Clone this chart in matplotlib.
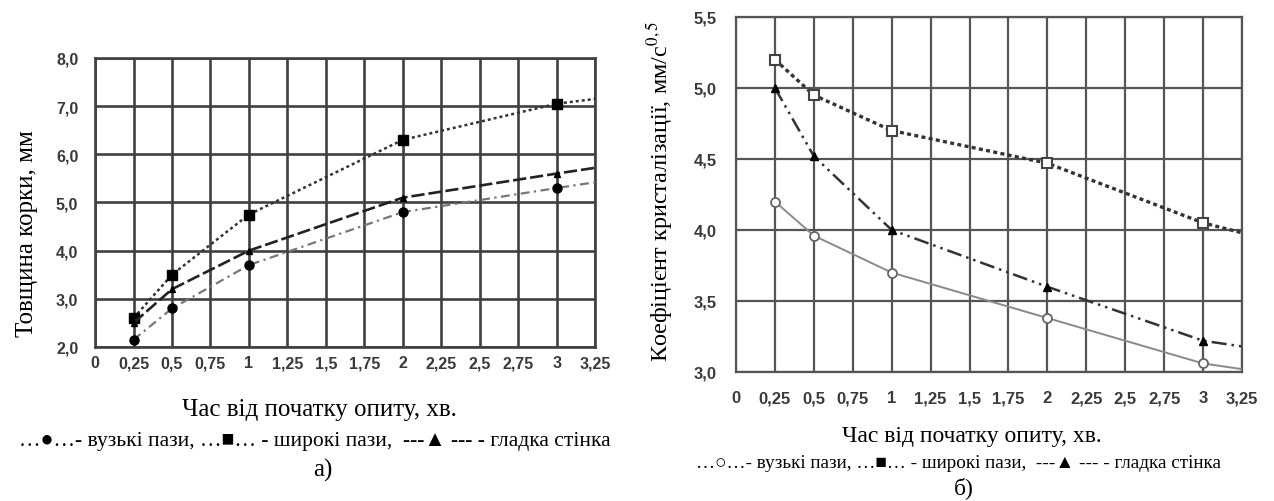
import numpy as np
import matplotlib
matplotlib.use("Agg")
import matplotlib.pyplot as plt

plt.rcParams['font.family'] = ['Liberation Serif', 'DejaVu Serif']
plt.rcParams['mathtext.fontset'] = 'stix'

# data (last value = where the line ends, no marker)
t = [0.25, 0.5, 1, 2, 3, 3.25]
x_ticks = [0, 0.25, 0.5, 0.75, 1, 1.25, 1.5, 1.75, 2, 2.25, 2.5, 2.75, 3, 3.25]
x_labels = ['0', '0,25', '0,5', '0,75', '1', '1,25', '1,5', '1,75', '2',
            '2,25', '2,5', '2,75', '3', '3,25']

# a) crust thickness, mm
narrow_a = [2.15, 2.8, 3.7, 4.8, 5.3, 5.42]
wide_a = [2.6, 3.5, 4.75, 6.3, 7.05, 7.15]
smooth_a = [2.5, 3.2, 4.0, 5.1, 5.6, 5.72]
y_ticks_a = [2, 3, 4, 5, 6, 7, 8]
y_labels_a = ['2,0', '3,0', '4,0', '5,0', '6,0', '7,0', '8,0']

# b) crystallisation coefficient
narrow_b = [4.2, 3.96, 3.7, 3.38, 3.06, 3.02]
wide_b = [5.2, 4.95, 4.7, 4.47, 4.05, 3.98]
smooth_b = [5.0, 4.52, 4.0, 3.6, 3.22, 3.18]
y_ticks_b = [3.0, 3.5, 4.0, 4.5, 5.0, 5.5]
y_labels_b = ['3,0', '3,5', '4,0', '4,5', '5,0', '5,5']

marks = [0, 1, 2, 3, 4]

fig = plt.figure(figsize=(12.74, 5.02), dpi=100)
ax1 = fig.add_axes([0.0746, 0.3068, 0.3925, 0.5757])
ax2 = fig.add_axes([0.5777, 0.257, 0.3972, 0.7072])


def setup(ax, yt, yl, size, xpad, ypad, gcol, glw):
    font = dict(family=['Liberation Sans', 'DejaVu Sans'], size=size,
                color='#3a3a3a', weight='bold')
    ax.set_xlim(0, 3.25)
    ax.set_ylim(yt[0], yt[-1])
    ax.set_xticks(x_ticks)
    ax.set_xticklabels(x_labels, fontdict=font)
    ax.set_yticks(yt)
    ax.set_yticklabels(yl, fontdict=font)
    ax.tick_params(axis='x', length=0, pad=xpad)
    ax.tick_params(axis='y', length=0, pad=ypad)
    ax.grid(True, color=gcol, linewidth=glw)
    ax.set_axisbelow(True)
    for s in ax.spines.values():
        s.set_color(gcol)
        s.set_linewidth(glw)


setup(ax1, y_ticks_a, y_labels_a, 11.5, 6, 12, '#404040', 1.9)
setup(ax2, y_ticks_b, y_labels_b, 12, 13, 14, '#555555', 1.6)

# left chart
ax1.plot(t, wide_a, linestyle=(0, (1.2, 1.2)), color='#333333', lw=1.8,
         marker='s', ms=7, mfc='black', mec='black', markevery=marks, zorder=3)
ax1.plot(t, smooth_a, linestyle=(0, (5, 1.5)), color='#222222', lw=1.9,
         marker='^', ms=4, mfc='black', mec='black', markevery=marks, zorder=3)
ax1.plot(t, narrow_a, linestyle=(0, (4, 2, 1, 2)), color='#777777', lw=1.6,
         marker='o', ms=6.5, mfc='black', mec='black', markevery=marks, zorder=3)

# right chart
ax2.plot(t, wide_b, linestyle=(0, (1.2, 1.0)), color='#333333', lw=2.4,
         marker='s', ms=7, mfc='white', mec='#444444', mew=1.5, markevery=marks, zorder=3)
ax2.plot(t, smooth_b, linestyle=(0, (6, 2, 1, 2, 1, 2)), color='#333333', lw=1.8,
         marker='^', ms=6, mfc='black', mec='black', markevery=marks, zorder=3)
ax2.plot(t, narrow_b, linestyle='-', color='#8a8a8a', lw=1.4,
         marker='o', ms=6.5, mfc='white', mec='#666666', mew=1.3, markevery=marks, zorder=3)

# texts
fig.text(27 / 1274, 1 - 234 / 502, 'Товщина корки, мм', rotation=90,
         ha='center', va='center', fontsize=18)
fig.text(319 / 1274, 1 - 410 / 502, 'Час від початку опиту, хв.',
         ha='center', va='center', fontsize=18)
fig.text(315 / 1274, 1 - 442 / 502,
         '…●…- вузькі пази, …■… - широкі пази,  ---▲ --- - гладка стінка',
         ha='center', va='center', fontsize=15.5)
fig.text(323 / 1274, 1 - 470 / 502, 'а)', ha='center', va='center', fontsize=18)

fig.text(660 / 1274, 1 - 191 / 502, 'Коефіцієнт кристалізації, мм/с$^{0,5}$',
         rotation=90, ha='center', va='center', fontsize=17.5)
fig.text(972 / 1274, 1 - 437 / 502, 'Час від початку опиту, хв.',
         ha='center', va='center', fontsize=17)
fig.text(958 / 1274, 1 - 464 / 502,
         '…○…- вузькі пази, …■… - широкі пази,  ---▲ --- - гладка стінка',
         ha='center', va='center', fontsize=13.8)
fig.text(964 / 1274, 1 - 488 / 502, 'б)', ha='center', va='center', fontsize=17)

fig.savefig('out.png', dpi=100, facecolor='white')
